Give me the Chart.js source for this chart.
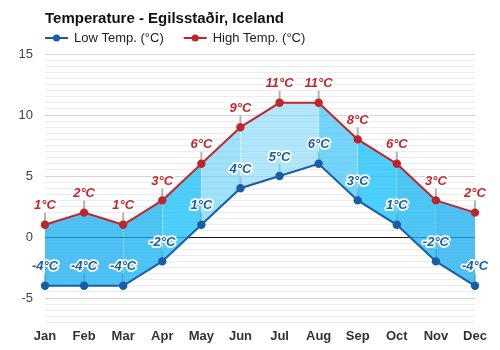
<!DOCTYPE html>
<html><head><meta charset="utf-8">
<script src="https://cdn.jsdelivr.net/npm/chart.js@4"></script>
<style>html,body{margin:0;padding:0;background:#fff}#wrap{width:500px;height:350px}</style>
</head><body><div id="wrap"><canvas id="c" width="500" height="350"></canvas></div>
<script>
const chartTitle = 'Temperature - Egilsstaðir, Iceland';
const months = ['Jan','Feb','Mar','Apr','May','Jun','Jul','Aug','Sep','Oct','Nov','Dec'];
const seriesNames = ['Low Temp. (°C)', 'High Temp. (°C)'];
const lowTemps = [-4, -4, -4, -2, 1, 4, 5, 6, 3, 1, -2, -4];
const highTemps = [1, 2, 1, 3, 6, 9, 11, 11, 8, 6, 3, 2];
const yTickLabels = [-5, 0, 5, 10, 15];
const bandColors = [
  'rgba(22,172,241,0.76)', 'rgba(22,172,241,0.76)', 'rgba(22,178,242,0.76)', 'rgba(22,191,248,0.76)',
  'rgba(110,210,246,0.66)', 'rgba(130,216,248,0.62)', 'rgba(130,216,248,0.62)', 'rgba(64,196,247,0.72)',
  'rgba(22,191,248,0.76)', 'rgba(22,182,244,0.76)', 'rgba(22,172,241,0.76)'
];
const lowColor = '#1a5da6';
const highColor = '#c0252b';
const FONT = '"Liberation Sans", Arial, Helvetica, sans-serif';

const deco = {
  id: 'deco',
  beforeDatasetsDraw(chart) {
    const ctx = chart.ctx;
    ctx.save();
    ctx.strokeStyle = 'rgba(175,175,175,0.95)';
    ctx.lineWidth = 2;
    chart.data.datasets.forEach((ds, i) => {
      chart.getDatasetMeta(i).data.forEach(pt => {
        ctx.beginPath();
        ctx.moveTo(pt.x, pt.y - 2);
        ctx.lineTo(pt.x, pt.y - 12);
        ctx.stroke();
      });
    });
    ctx.restore();
  },
  afterDatasetsDraw(chart) {
    const ctx = chart.ctx;
    ctx.save();
    ctx.font = 'italic bold 13px ' + FONT;
    ctx.textAlign = 'center';
    ctx.textBaseline = 'middle';
    ctx.lineJoin = 'round';
    chart.data.datasets.forEach((ds, i) => {
      const col = i === 0 ? '#175fa8' : '#c3262c';
      chart.getDatasetMeta(i).data.forEach((pt, j) => {
        const txt = ds.data[j] + '°C';
        ctx.strokeStyle = '#fff';
        ctx.lineWidth = 3.5;
        ctx.strokeText(txt, pt.x, pt.y - 19);
        ctx.fillStyle = col;
        ctx.fillText(txt, pt.x, pt.y - 19);
      });
    });
    ctx.restore();
  },
  afterDraw(chart) {
    const ctx = chart.ctx;
    ctx.save();
    ctx.font = '13px ' + FONT;
    ctx.textBaseline = 'middle';
    ctx.textAlign = 'left';
    let x = chart.chartArea.left;
    const y = 38;
    chart.data.datasets.forEach((ds, i) => {
      const c = ds.borderColor;
      ctx.strokeStyle = c; ctx.lineWidth = 2;
      ctx.beginPath(); ctx.moveTo(x, y); ctx.lineTo(x + 23, y); ctx.stroke();
      ctx.fillStyle = c;
      ctx.beginPath(); ctx.arc(x + 11.5, y, 3.5, 0, Math.PI * 2); ctx.fill();
      ctx.fillStyle = '#222';
      ctx.fillText(ds.label, x + 29, y);
      x += 29 + ctx.measureText(ds.label).width + 20;
    });
    ctx.restore();
  }
};

new Chart(document.getElementById('c'), {
  type: 'line',
  data: {
    labels: months,
    datasets: [
      { label: seriesNames[0], data: lowTemps, borderColor: lowColor, backgroundColor: lowColor,
        pointBackgroundColor: lowColor, pointBorderColor: lowColor, pointRadius: 3.2, borderWidth: 2,
        fill: false, tension: 0 },
      { label: seriesNames[1], data: highTemps, borderColor: highColor, backgroundColor: bandColors[0],
        pointBackgroundColor: highColor, pointBorderColor: highColor, pointRadius: 3.2, borderWidth: 2,
        fill: '-1', tension: 0,
        segment: { backgroundColor: c => bandColors[c.p0DataIndex] } }
    ]
  },
  options: {
    responsive: false,
    animation: false,
    devicePixelRatio: 1,
    layout: { padding: { left: 0, right: 25, top: 0, bottom: 0 } },
    plugins: {
      legend: { display: false },
      tooltip: { enabled: false },
      title: { display: true, text: chartTitle, align: 'start', fullSize: false, color: '#111',
        font: { family: FONT, size: 15, weight: 'bold' }, padding: { top: 10, bottom: 26 } }
    },
    scales: {
      x: {
        offset: false,
        grid: { display: false, drawTicks: false },
        border: { display: false },
        ticks: { color: '#333', padding: 6, font: { family: FONT, size: 13, weight: 'bold' }, maxRotation: 0, autoSkip: false }
      },
      y: {
        min: -7, max: 15,
        afterFit: s => { s.width = 45; },
        border: { display: false },
        grid: {
          drawTicks: false,
          color: c => c.tick.value === 0 ? '#1a1a1a' : (c.tick.value % 5 === 0 ? '#d4d4d4' : '#ececec'),
          lineWidth: 1
        },
        ticks: {
          stepSize: 0.5, autoSkip: false, maxTicksLimit: 100, padding: 12, color: '#444',
          font: { family: FONT, size: 13 },
          callback: v => yTickLabels.includes(v) ? String(v) : ''
        }
      }
    }
  },
  plugins: [deco]
});
</script>
</body></html>
